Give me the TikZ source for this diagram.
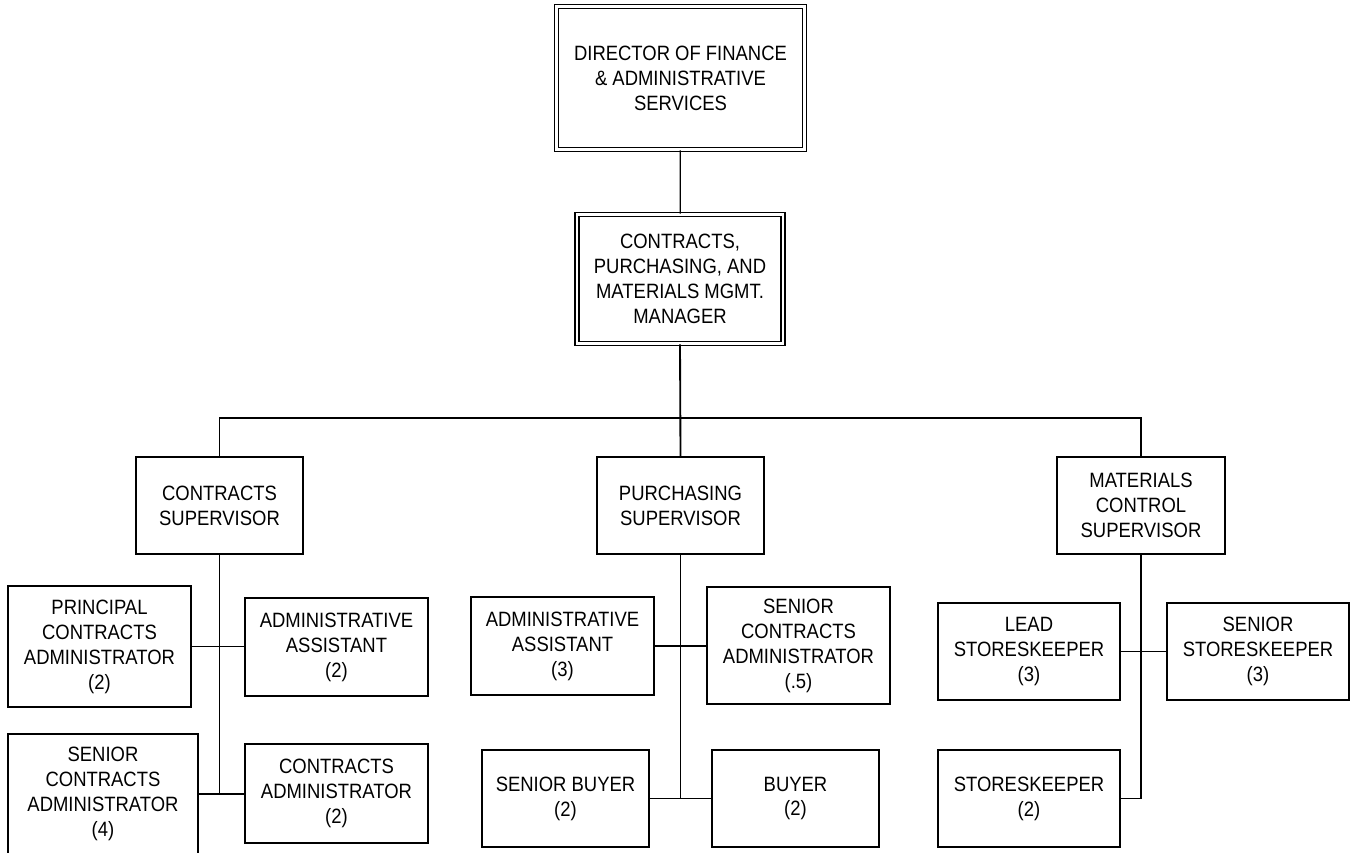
\documentclass[tikz,border=0pt]{standalone}
\usepackage{fontspec}
\setmainfont{Liberation Sans}[FakeStretch=0.89]
\usetikzlibrary{positioning}
\tikzset{
    box/.style={draw=black, line width=0.7pt, fill=white, align=center, inner sep=0pt, font=\fontsize{11.8}{14.2}\selectfont},
    headbox/.style={box, double, double distance=1.5pt},
    link/.style={draw=black, line width=0.75pt},
    trunk/.style={draw=black, line width=1.05pt}
}

\begin{document}
\begin{tikzpicture}[x=0.02cm, y=-0.02cm]
        \useasboundingbox (0,0) rectangle (1351,852);
        \node [headbox, minimum width=4.97cm, minimum height=2.87cm] (dir) at (680.5,78) {DIRECTOR OF FINANCE \\ \& ADMINISTRATIVE \\ SERVICES};
        \node [headbox, minimum width=4.12cm, minimum height=2.59cm] (mgr) at (680,279) {CONTRACTS, \\ PURCHASING, AND \\ MATERIALS MGMT. \\ MANAGER};

        \node [box, minimum width=3.34cm, minimum height=1.94cm] (cs) at (219.5,505.5) {CONTRACTS \\ SUPERVISOR};
        \node [box, minimum width=3.34cm, minimum height=1.94cm] (ps) at (680.5,505.5) {PURCHASING \\ SUPERVISOR};
        \node [box, minimum width=3.36cm, minimum height=1.94cm] (ms) at (1141,505.5) {MATERIALS \\ CONTROL \\ SUPERVISOR};

        \node [box, minimum width=3.66cm, minimum height=2.42cm] (pca) at (99.5,646.5) {PRINCIPAL \\ CONTRACTS \\ ADMINISTRATOR \\ (2)};
        \node [box, minimum width=3.66cm, minimum height=1.96cm] (aa2) at (336.5,647) {ADMINISTRATIVE \\ ASSISTANT \\ (2)};
        \node [box, minimum width=3.80cm, minimum height=2.40cm] (sca4) at (103,794) {SENIOR \\ CONTRACTS \\ ADMINISTRATOR \\ (4)};
        \node [box, minimum width=3.66cm, minimum height=1.98cm] (ca2) at (336.5,793.5) {CONTRACTS \\ ADMINISTRATOR \\ (2)};

        \node [box, minimum width=3.66cm, minimum height=1.96cm] (aa3) at (562.5,646) {ADMINISTRATIVE \\ ASSISTANT \\ (3)};
        \node [box, minimum width=3.66cm, minimum height=2.34cm] (sca5) at (798.5,645.5) {SENIOR \\ CONTRACTS \\ ADMINISTRATOR \\ (.5)};
        \node [box, minimum width=3.34cm, minimum height=1.94cm] (sb) at (565.5,798.5) {SENIOR BUYER \\ (2)};
        \node [box, minimum width=3.34cm, minimum height=1.94cm] (buyer) at (795.5,798.5) {BUYER \\ (2)};

        \node [box, minimum width=3.64cm, minimum height=1.94cm] (lsk) at (1029,651.5) {LEAD \\ STORESKEEPER \\ (3)};
        \node [box, minimum width=3.64cm, minimum height=1.94cm] (ssk) at (1258,651.5) {SENIOR \\ STORESKEEPER \\ (3)};
        \node [box, minimum width=3.64cm, minimum height=1.94cm] (sk) at (1029,798.5) {STORESKEEPER \\ (2)};

        \coordinate (bus) at (680.5,418);
        \draw [link] (dir) -- (mgr);
        \draw [trunk] (mgr.south) -- (ps.north);
        \draw [link] (cs.north) |- (bus) -| (ms.north);

        % contracts
        \draw [trunk] (cs.south) -- (cs.south |- sca4.east);
        \draw [link] (pca.east) -- (pca.east -| aa2.west);
        \draw [link] (sca4.east) -- (sca4.east -| ca2.west);

        % purchasing
        \draw [trunk] (ps.south) -- (ps.south |- sb.east);
        \draw [link] (aa3.east) -- (aa3.east -| sca5.west);
        \draw [link] (sb.east) -- (buyer.west);

        % materials
        \draw [trunk] (ms.south) |- (sk.east);
        \draw [link] (lsk.east) -- (ssk.west);
    \end{tikzpicture}
\end{document}
